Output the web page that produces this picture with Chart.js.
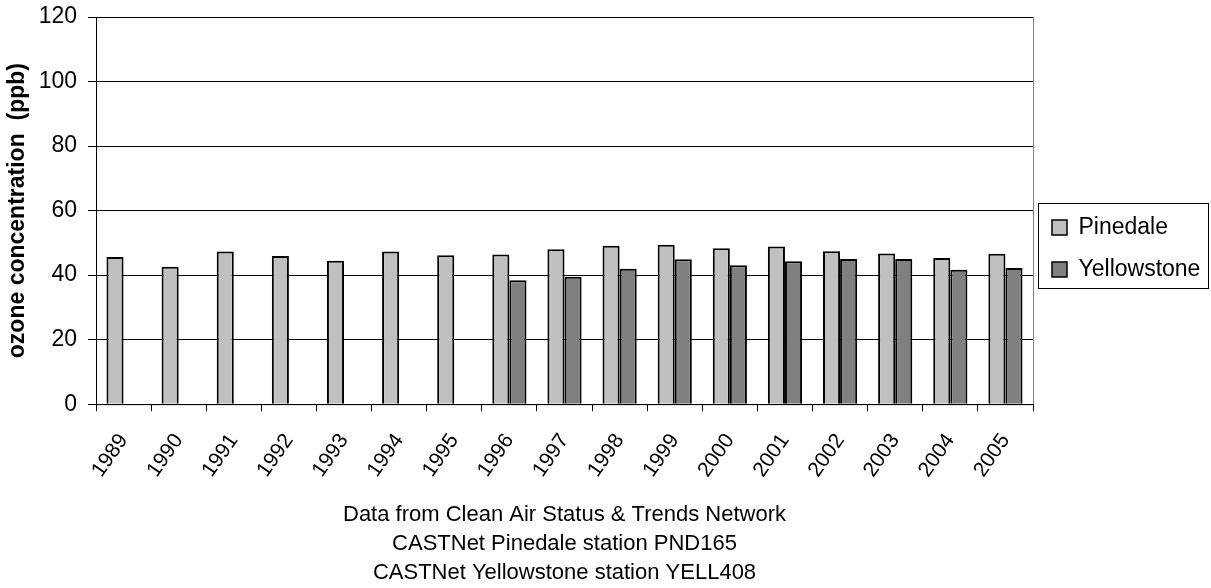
<!DOCTYPE html>
<html>
<head>
<meta charset="utf-8">
<script src="https://cdn.jsdelivr.net/npm/chart.js@4/dist/chart.umd.min.js"></script>
<style>
  html, body { margin: 0; padding: 0; background: #fff; }
  #wrap { width: 1211px; height: 588px; }
</style>
</head>
<body>
<div id="wrap"><canvas id="graph" width="1211" height="588"></canvas></div>
<script>
// values
var years = ['1989', '1990', '1991', '1992', '1993', '1994', '1995', '1996', '1997',
  '1998', '1999', '2000', '2001', '2002', '2003', '2004', '2005'];
var pinedale = [45.6, 42.6, 47.3, 45.9, 44.5, 47.3, 46.2, 46.4, 48.0,
  49.1, 49.4, 48.3, 48.9, 47.4, 46.7, 45.3, 46.6];
var yellowstone = [null, null, null, null, null, null, null, 38.4, 39.5,
  42.0, 44.9, 43.1, 44.3, 45.0, 45.0, 41.7, 42.2];
var yTicks = [0, 20, 40, 60, 80, 100, 120];
var sourceLines = [
  'Data from Clean Air Status & Trends Network',
  'CASTNet Pinedale station PND165',
  'CASTNet Yellowstone station YELL408'
];

var FONT = 'Liberation Sans, Arial, sans-serif';

// gray frame behind the plot, top gridline is drawn over it
var frame = {
  id: 'frame',
  beforeDraw: function (chart) {
    var a = chart.chartArea, c = chart.ctx;
    c.save();
    c.strokeStyle = '#808080';
    c.lineWidth = 1;
    c.strokeRect(a.left + 0.5, a.top + 0.5, a.right - a.left, a.bottom - a.top);
    c.restore();
  }
};

// legend: fixed width, moved to its place, boxed
var legendBox = {
  id: 'legendBox',
  beforeLayout: function (chart) {
    var lg = chart.legend;
    if (lg && !lg._fixed) {
      var fit = lg.fit;
      lg.fit = function () { fit.call(this); this.width = 178; };
      lg._fixed = true;
    }
  },
  afterLayout: function (chart) {
    var lg = chart.legend;
    var h = lg.bottom - lg.top;
    lg.top = 197;
    lg.bottom = lg.top + h;
  },
  afterDraw: function (chart) {
    var c = chart.ctx;
    c.save();
    c.strokeStyle = '#000';
    c.lineWidth = 1;
    c.strokeRect(1038.5, 203.5, 170, 85);
    c.restore();
  }
};

var ctx = document.getElementById('graph').getContext('2d');
new Chart(ctx, {
  type: 'bar',
  data: {
    labels: years,
    datasets: [{
      label: 'Pinedale',
      data: pinedale,
      backgroundColor: '#C0C0C0',
      borderColor: '#000',
      borderWidth: 2
    }, {
      label: 'Yellowstone',
      data: yellowstone,
      backgroundColor: '#808080',
      borderColor: '#000',
      borderWidth: 2
    }]
  },
  options: {
    responsive: false,
    animation: false,
    layout: { padding: { left: 0, top: 17, right: 0, bottom: 0 } },
    datasets: { bar: { categoryPercentage: 0.62, barPercentage: 1 } },
    scales: {
      x: {
        offset: true,
        grid: { offset: true, drawOnChartArea: false, drawTicks: true, tickLength: 7, color: '#000' },
        border: { color: '#000', width: 1 },
        ticks: {
          color: '#000', font: { family: FONT, size: 21 },
          minRotation: 55, maxRotation: 55, padding: 18, autoSkip: false
        },
        afterFit: function (s) { s.height = 96; }
      },
      y: {
        min: 0, max: 120,
        afterBuildTicks: function (s) { s.ticks = yTicks.map(function (v) { return { value: v }; }); },
        grid: { color: '#000', lineWidth: 1, tickLength: 8 },
        border: { color: '#000', width: 1 },
        ticks: { color: '#000', font: { family: FONT, size: 23 }, padding: 11 },
        title: {
          display: true, text: 'ozone concentration  (ppb)', color: '#000',
          font: { family: FONT, size: 23, weight: 'bold' }, padding: { top: 4, bottom: 0 }
        },
        afterFit: function (s) { s.width = 96; s.paddingTop = 0; s.paddingBottom = 0; }
      }
    },
    plugins: {
      legend: {
        position: 'right',
        align: 'start',
        labels: {
          color: '#000', font: { family: FONT, size: 23 },
          boxWidth: 15, boxHeight: 15, padding: 19,
          generateLabels: function (chart) {
            return chart.data.datasets.map(function (d, i) {
              return {
                text: d.label, fillStyle: d.backgroundColor, strokeStyle: '#000',
                lineWidth: 1.5, datasetIndex: i, fontColor: '#000', hidden: false
              };
            });
          }
        }
      },
      title: {
        display: true, position: 'bottom', fullSize: false, text: sourceLines, color: '#000',
        font: { family: FONT, size: 22, weight: 'normal', lineHeight: 1.33 },
        padding: 0
      },
      tooltip: { enabled: false }
    }
  },
  plugins: [frame, legendBox]
});
</script>
</body>
</html>
